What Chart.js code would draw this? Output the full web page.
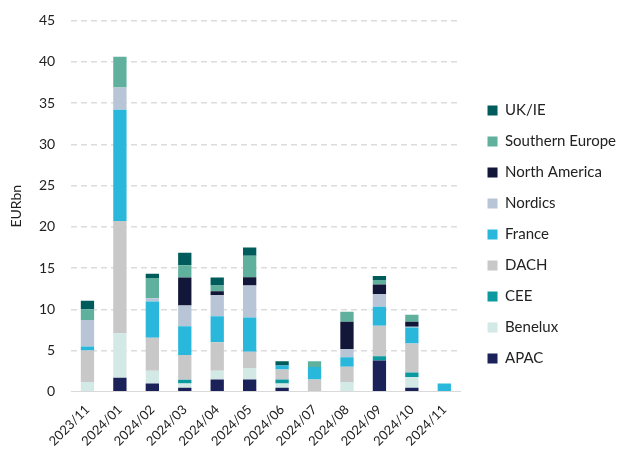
<!DOCTYPE html>
<html>
<head>
<meta charset="utf-8">
<script src="https://cdn.jsdelivr.net/npm/chart.js@4"></script>
<style>
  html, body { margin: 0; padding: 0; background: #fff; }
  #wrap { width: 619px; height: 452px; }
</style>
</head>
<body>
<div id="wrap"><canvas id="chart" width="619" height="452"></canvas></div>
<script>
const months = ["2023/11", "2024/01", "2024/02", "2024/03", "2024/04", "2024/05",
  "2024/06", "2024/07", "2024/08", "2024/09", "2024/10", "2024/11"];

// one array per region, bottom of the stack first
const apac      = [0, 1.7, 1.0, 0.5, 1.5, 1.5, 0.5, 0, 0, 3.8, 0.5, 0];
const benelux   = [1.2, 5.4, 1.55, 0.5, 1.05, 1.4, 0.5, 0, 1.2, 0, 1.3, 0];
const cee       = [0, 0, 0, 0.45, 0, 0, 0.5, 0, 0, 0.5, 0.55, 0];
const dach      = [3.8, 13.6, 4.0, 3.0, 3.45, 1.95, 1.2, 1.5, 1.85, 3.7, 3.5, 0];
const france    = [0.5, 13.5, 4.4, 3.5, 3.15, 4.15, 0.5, 1.5, 1.15, 2.3, 1.95, 1.0];
const nordics   = [3.2, 2.7, 0.4, 2.5, 2.55, 3.9, 0, 0, 1.0, 1.55, 0.1, 0];
const northAm   = [0, 0, 0, 3.4, 0.5, 1.0, 0, 0, 3.3, 1.15, 0.6, 0];
const southEu   = [1.3, 3.7, 2.45, 1.5, 0.7, 2.6, 0, 0.7, 1.2, 0.55, 0.85, 0];
const ukie      = [1.05, 0, 0.5, 1.5, 0.95, 1.0, 0.5, 0, 0, 0.5, 0, 0];

const yTicks = [0, 5, 10, 15, 20, 25, 30, 35, 40, 45];

const FONT = "Lato, 'Open Sans', sans-serif";

const series = [
  { label: "APAC", data: apac, color: "#1b2259" },
  { label: "Benelux", data: benelux, color: "#d3e9e5" },
  { label: "CEE", data: cee, color: "#0b9a9f" },
  { label: "DACH", data: dach, color: "#c8c8c8" },
  { label: "France", data: france, color: "#29b8dc" },
  { label: "Nordics", data: nordics, color: "#b8c5d6" },
  { label: "North America", data: northAm, color: "#121639" },
  { label: "Southern Europe", data: southEu, color: "#5fb09d" },
  { label: "UK/IE", data: ukie, color: "#005b5c" },
];

const ctx = document.getElementById("chart").getContext("2d");
new Chart(ctx, {
  type: "bar",
  data: {
    labels: months,
    datasets: series.map(s => ({
      label: s.label,
      data: s.data,
      backgroundColor: s.color,
      borderWidth: 0,
      categoryPercentage: 1,
      barPercentage: 0.41,
    })),
  },
  options: {
    responsive: false,
    animation: false,
    layout: { padding: { top: 4, right: -7, bottom: 1, left: 9 } },
    plugins: {
      legend: {
        position: "right",
        reverse: true,
        maxWidth: 200,
        title: { display: true, text: " ", font: { size: 1 }, padding: { top: 7, bottom: 6 } },
        labels: {
          boxWidth: 10,
          boxHeight: 10,
          padding: 16,
          color: "#222",
          font: { family: FONT, size: 15 },
        },
      },
      tooltip: { enabled: false },
    },
    scales: {
      x: {
        stacked: true,
        grid: { display: false },
        border: { display: true, color: "#d9d9d9", width: 1 },
        ticks: {
          minRotation: 45,
          maxRotation: 45,
          color: "#222",
          font: { family: FONT, size: 13 },
          padding: 2,
        },
      },
      y: {
        stacked: true,
        min: 0,
        max: 45,
        afterBuildTicks: axis => { axis.ticks = yTicks.map(v => ({ value: v })); },
        grid: {
          drawTicks: false,
          lineWidth: 1.5,
          color: c => (c.tick && c.tick.value === 0 ? "rgba(0,0,0,0)" : "#dcdcdc"),
        },
        border: { display: false, dash: [6, 4] },
        ticks: {
          padding: 16,
          color: "#222",
          font: { family: FONT, size: 14, lineHeight: 0.65 },
        },
        title: {
          display: true,
          text: "EURbn",
          color: "#222",
          font: { family: FONT, size: 14, lineHeight: 1 },
          padding: 0,
        },
      },
      // empty axis, only keeps a gap between the plot and the legend
      gap: {
        position: "right",
        display: true,
        grid: { display: false },
        border: { display: false },
        ticks: { display: false },
        afterFit: s => { s.width = 11; },
      },
    },
  },
});
</script>
</body>
</html>
